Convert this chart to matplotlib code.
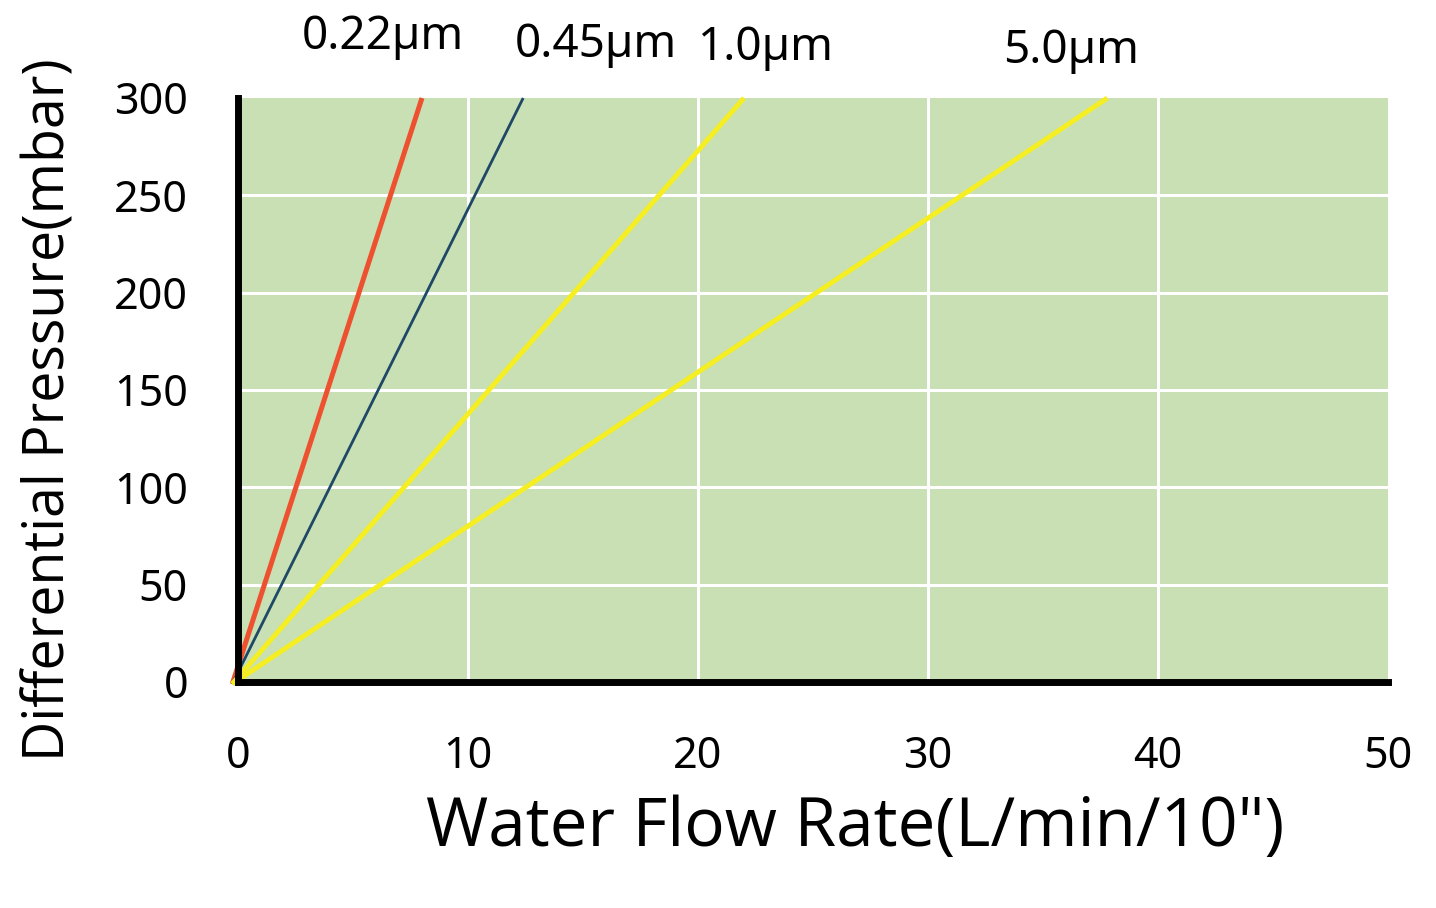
import matplotlib
matplotlib.use("Agg")
import matplotlib.pyplot as plt
from matplotlib import font_manager as fm

# ---- data ----
sizes = ["0.22µm", "0.45µm", "1.0µm", "5.0µm"]
flow_at_300 = [8.0, 12.4, 22.0, 37.8]      # L/min/10" where each line reaches 300 mbar
pressure_end = [300, 300, 300, 300]
x_ticks = [0, 10, 20, 30, 40, 50]
y_ticks = [0, 50, 100, 150, 200, 250, 300]

# ---- style ----
colors = ["#ee5130", "#1f4866", "#f4ee22", "#f4ee22"]
widths = [3.6, 2.0, 3.6, 3.6]
label_offsets = [(-28, 44), (52, 38), (16, 36), (-26, 34)]  # points

plt.rcParams['font.family'] = ['Open Sans', 'DejaVu Sans']

# check for condensed Noto Sans
cond = [f for f in fm.fontManager.ttflist if f.name == 'Noto Sans' and f.stretch not in ('normal', 400, 500)]
print([(f.fname, f.stretch, f.weight) for f in cond][:10])

fig = plt.figure(figsize=(14.36, 9.08), dpi=100)
ax = fig.add_axes([238/1436, 1-682/908, 1150/1436, 584/908])
ax.set_facecolor("#c8e0b4")

for s, xe, ye, c, w, off in zip(sizes, flow_at_300, pressure_end, colors, widths, label_offsets):
    ax.plot([-0.25, xe], [-1, ye], color=c, lw=w, solid_capstyle='butt', zorder=3, clip_on=False)
    ax.annotate(s, xy=(xe, ye), xytext=off, textcoords='offset points',
                ha='center', va='center', fontsize=33, fontfamily='Noto Sans',
                fontstretch='condensed', annotation_clip=False)

ax.set_xlim(0, 50)
ax.set_ylim(0, 300)
ax.set_xticks(x_ticks)
ax.set_yticks(y_ticks)
ax.set_xticklabels([str(v) for v in x_ticks], fontsize=31, fontfamily='Noto Sans', fontstretch='condensed')
ax.set_yticklabels([str(v) for v in y_ticks], fontsize=31, fontfamily='Noto Sans', fontstretch='condensed')
ax.tick_params(axis='both', length=0)
ax.tick_params(axis='x', pad=38)
ax.tick_params(axis='y', pad=36)

for xv in x_ticks[1:-1]:
    ax.axvline(xv, color="white", lw=2.2, zorder=1)
for yv in y_ticks[1:-1]:
    ax.axhline(yv, color="white", lw=2.2, zorder=1)

for side in ["top", "right"]:
    ax.spines[side].set_visible(False)
ax.spines["left"].set_linewidth(5)
ax.spines["bottom"].set_linewidth(5)
ax.spines["left"].set_zorder(4)
ax.spines["bottom"].set_zorder(4)

ax.set_xlabel('Water Flow Rate(L/min/10")', fontsize=48.5)
ax.xaxis.set_label_coords((855-238)/1150, (682-828)/584)
ax.xaxis.label.set_va('center')
ax.set_ylabel('Differential Pressure(mbar)', fontsize=40)
ax.yaxis.set_label_coords((50-238)/1150, (682-410)/584)
ax.yaxis.label.set_va('center')

fig.savefig("out.png", dpi=100, facecolor="white")
